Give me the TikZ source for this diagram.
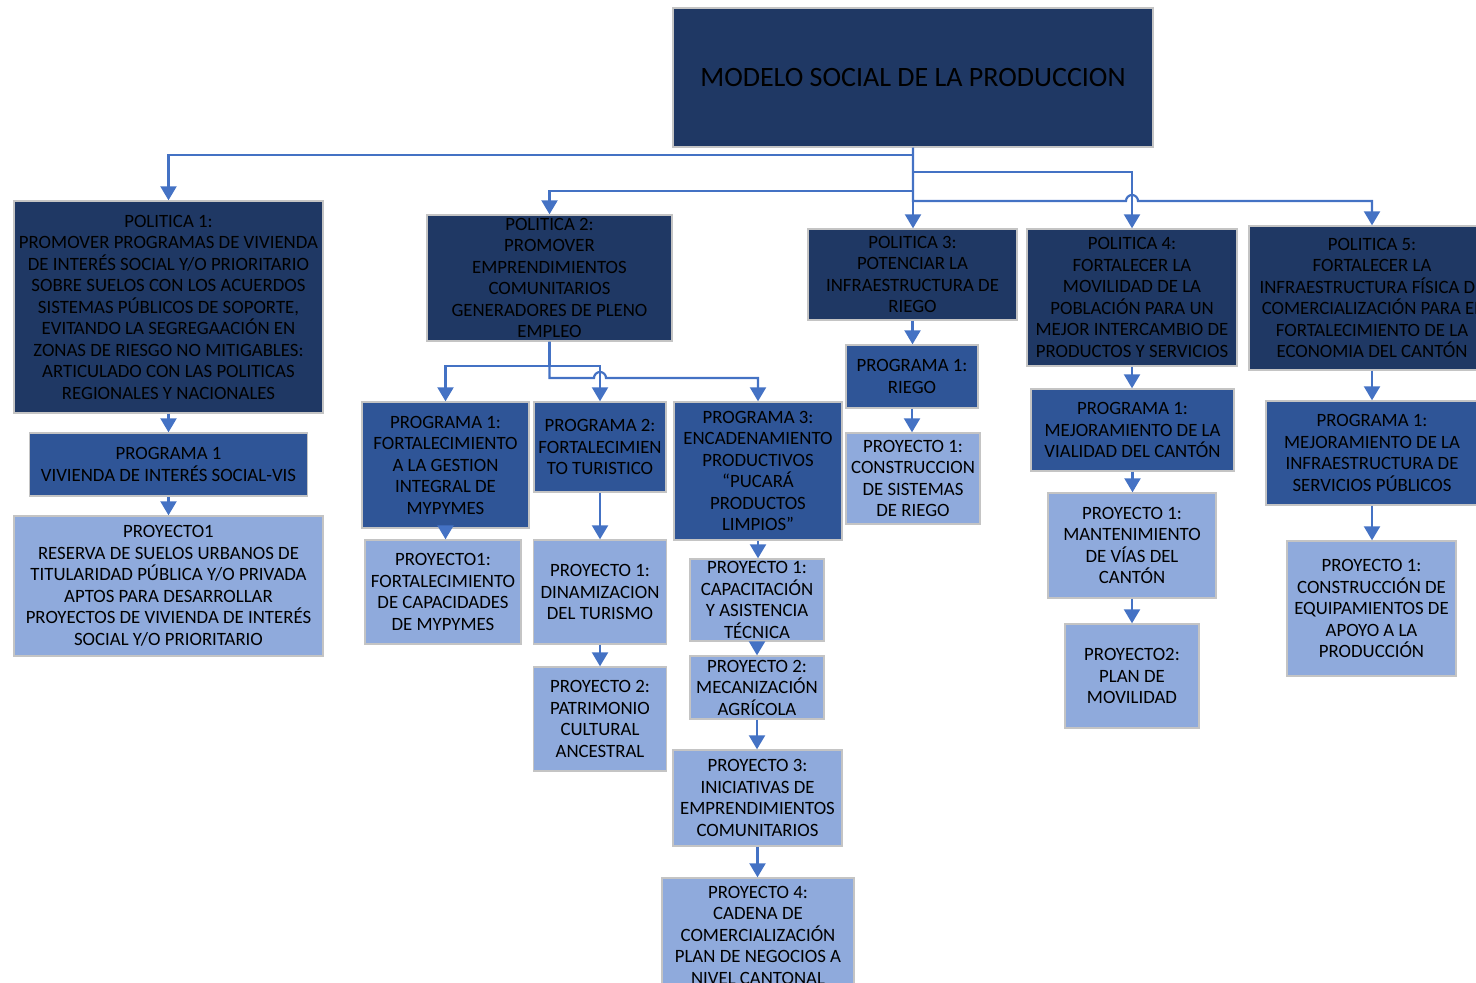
\documentclass[tikz,border=0pt]{standalone}
\usepackage{fontspec}
\setmainfont{Carlito}
\usetikzlibrary{arrows.meta,calc}
\definecolor{navy}{HTML}{1F3864}
\definecolor{progblue}{HTML}{2F5597}
\definecolor{proylight}{HTML}{8FAADC}
\definecolor{linkblue}{HTML}{4472C4}
\definecolor{edgegray}{HTML}{C4C4C4}

\begin{document}
\begin{tikzpicture}[
    x=0.5pt, y=-0.5pt,
    base/.style={rectangle, draw=edgegray, line width=0.7pt, inner sep=0pt, align=center, text=black, font=\fontsize{9.4}{10.75}\selectfont},
    titlebox/.style={base, fill=navy, font=\fontsize{14}{17}\selectfont},
    polbox/.style={base, fill=navy},
    progbox/.style={base, fill=progblue},
    proybox/.style={base, fill=proylight},
    sz/.style 2 args={minimum width=#1*0.5pt, minimum height=#2*0.5pt},
    conn/.style={draw=linkblue, line width=1.1pt, -{Triangle[length=7pt,width=8pt]}}
]
\useasboundingbox (0,0) rectangle (1476,982);

% Title
\node[titlebox, sz={480}{139}] (title) at (913,77.5) {MODELO SOCIAL DE LA PRODUCCION};

% Politica 1
\node[polbox, sz={309}{212}] (pol1) at (168.5,307) {POLITICA 1:\\PROMOVER PROGRAMAS DE VIVIENDA\\DE INTERÉS SOCIAL Y/O PRIORITARIO\\SOBRE SUELOS CON LOS ACUERDOS\\SISTEMAS PÚBLICOS DE SOPORTE,\\EVITANDO LA SEGREGAACIÓN EN\\ZONAS DE RIESGO NO MITIGABLES:\\ARTICULADO CON LAS POLITICAS\\REGIONALES Y NACIONALES};
\node[progbox, sz={278}{63}] (p1prog) at (168.5,464.5) {PROGRAMA 1\\VIVIENDA DE INTERÉS SOCIAL-VIS};
\node[proybox, sz={309}{140}] (p1proy) at (168.5,586) {PROYECTO1\\RESERVA DE SUELOS URBANOS DE\\TITULARIDAD PÚBLICA Y/O PRIVADA\\APTOS PARA DESARROLLAR\\PROYECTOS DE VIVIENDA DE INTERÉS\\SOCIAL Y/O PRIORITARIO};

% Politica 2
\node[polbox, sz={245}{126}] (pol2) at (549.5,278) {POLITICA 2:\\PROMOVER\\EMPRENDIMIENTOS\\COMUNITARIOS\\GENERADORES DE PLENO\\EMPLEO};
\node[progbox, sz={167}{126}] (p2prog1) at (445.5,465) {PROGRAMA 1:\\FORTALECIMIENTO\\A LA GESTION\\INTEGRAL DE\\MYPYMES};
\node[progbox, sz={132}{90}] (p2prog2) at (600,447) {PROGRAMA 2:\\FORTALECIMIEN\\TO TURISTICO};
\node[progbox, sz={168}{138}] (p2prog3) at (758,471) {PROGRAMA 3:\\ENCADENAMIENTO\\PRODUCTIVOS\\“PUCARÁ\\PRODUCTOS\\LIMPIOS”};
\node[proybox, sz={156}{104}] (p2a1) at (443,592) {PROYECTO1:\\FORTALECIMIENTO\\DE CAPACIDADES\\DE MYPYMES};
\node[proybox, sz={133}{104}] (p2b1) at (600,592) {PROYECTO 1:\\DINAMIZACION\\DEL TURISMO};
\node[proybox, sz={133}{104}] (p2b2) at (600,719) {PROYECTO 2:\\PATRIMONIO\\CULTURAL\\ANCESTRAL};
\node[proybox, sz={134}{82}] (p2c1) at (757,600) {PROYECTO 1:\\CAPACITACIÓN\\Y ASISTENCIA\\TÉCNICA};
\node[proybox, sz={134}{63}] (p2c2) at (757,687.5) {PROYECTO 2:\\MECANIZACIÓN\\AGRÍCOLA};
\node[proybox, sz={169}{96}] (p2c3) at (757.5,798) {PROYECTO 3:\\INICIATIVAS DE\\EMPRENDIMIENTOS\\COMUNITARIOS};
\node[proybox, sz={192}{114}] (p2c4) at (758,935) {PROYECTO 4:\\CADENA DE\\COMERCIALIZACIÓN\\PLAN DE NEGOCIOS A\\NIVEL CANTONAL};

% Politica 3
\node[polbox, sz={209}{91}] (pol3) at (912.5,274.5) {POLITICA 3:\\POTENCIAR LA\\INFRAESTRUCTURA DE\\RIEGO};
\node[progbox, sz={132}{63}] (p3prog) at (912,376.5) {PROGRAMA 1:\\RIEGO};
\node[proybox, sz={134}{91}] (p3proy) at (913,478.5) {PROYECTO 1:\\CONSTRUCCION\\DE SISTEMAS\\DE RIEGO};

% Politica 4
\node[polbox, sz={210}{137}] (pol4) at (1132,297.5) {POLITICA 4:\\FORTALECER LA\\MOVILIDAD DE LA\\POBLACIÓN PARA UN\\MEJOR INTERCAMBIO DE\\PRODUCTOS Y SERVICIOS};
\node[progbox, sz={203}{82}] (p4prog) at (1132.5,430) {PROGRAMA 1:\\MEJORAMIENTO DE LA\\VIALIDAD DEL CANTÓN};
\node[proybox, sz={168}{105}] (p4a) at (1132,545.5) {PROYECTO 1:\\MANTENIMIENTO\\DE VÍAS DEL\\CANTÓN};
\node[proybox, sz={134}{104}] (p4b) at (1132,676) {PROYECTO2:\\PLAN DE\\MOVILIDAD};

% Politica 5
\node[polbox, sz={246}{144}] (pol5) at (1372,298) {POLITICA 5:\\FORTALECER LA\\INFRAESTRUCTURA FÍSICA DE\\COMERCIALIZACIÓN PARA EL\\FORTALECIMIENTO DE LA\\ECONOMIA DEL CANTÓN};
\node[progbox, sz={212}{104}] (p5prog) at (1372,453) {PROGRAMA 1:\\MEJORAMIENTO DE LA\\INFRAESTRUCTURA DE\\SERVICIOS PÚBLICOS};
\node[proybox, sz={169}{135}] (p5proy) at (1371.5,608.5) {PROYECTO 1:\\CONSTRUCCIÓN DE\\EQUIPAMIENTOS DE\\APOYO A LA\\PRODUCCIÓN};

% Title to policies
\draw[conn] (title.south) -- (title.south |- 0,155) -| (pol1.north);
\draw[conn] (title.south) -- (title.south |- 0,191) -| (pol2.north);
\draw[conn] (title.south) -- (title.south |- pol3.north);
\draw[conn] (title.south) -- (title.south |- 0,172) -| (pol4.north);
\draw[conn] (title.south) -- (title.south |- 0,201) -- ($(pol4.north |- 0,201)+(-6,0)$) arc[start angle=180, end angle=0, radius=3pt] -| (pol5.north);

% Politica 1 chain
\draw[conn] (pol1.south) -- (pol1.south |- p1prog.north);
\draw[conn] (p1prog.south) -- (p1prog.south |- p1proy.north);

% Politica 2 chains
\draw[conn] (pol2.south) -- (pol2.south |- 0,366) -| (p2prog1.north);
\draw[conn] (pol2.south) -- (pol2.south |- 0,366) -| (p2prog2.north);
\draw[conn] (pol2.south) -- (pol2.south |- 0,378) -- ($(p2prog2.north |- 0,378)+(-6,0)$) arc[start angle=180, end angle=0, radius=3pt] -| (p2prog3.north);
\draw[conn] (p2prog1.south) -- (p2prog1.south |- p2a1.north);
\draw[conn] (p2prog2.south) -- (p2prog2.south |- p2b1.north);
\draw[conn] (p2b1.south) -- (p2b1.south |- p2b2.north);
\draw[conn] (p2prog3.south) -- (p2prog3.south |- p2c1.north);
\draw[conn] (p2c1.south) -- (p2c1.south |- p2c2.north);
\draw[conn] (p2c2.south) -- (p2c2.south |- p2c3.north);
\draw[conn] (p2c3.south) -- (p2c3.south |- p2c4.north);

% Politica 3 chain
\draw[conn] (pol3.south) -- (pol3.south |- p3prog.north);
\draw[conn] (p3prog.south) -- (p3prog.south |- p3proy.north);

% Politica 4 chain
\draw[conn] (pol4.south) -- (pol4.south |- p4prog.north);
\draw[conn] (p4prog.south) -- (p4prog.south |- p4a.north);
\draw[conn] (p4a.south) -- (p4a.south |- p4b.north);

% Politica 5 chain
\draw[conn] (pol5.south) -- (pol5.south |- p5prog.north);
\draw[conn] (p5prog.south) -- (p5prog.south |- p5proy.north);

\end{tikzpicture}
\end{document}
